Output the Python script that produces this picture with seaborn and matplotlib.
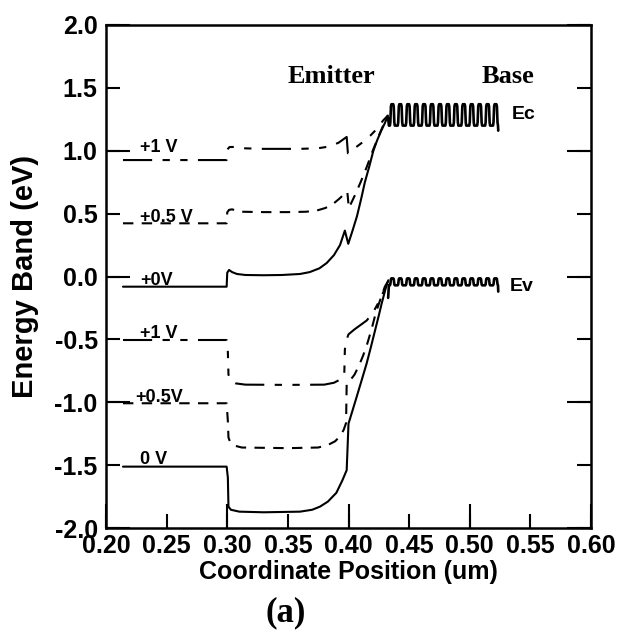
import numpy as np
import pandas as pd
import seaborn as sns
import matplotlib.pyplot as plt

# conduction band, emitter side (x in um, energy in eV)
cb_0v_x = [0.214, 0.2995, 0.3000, 0.3015, 0.304, 0.308, 0.315, 0.330, 0.345, 0.360, 0.368, 0.376,
           0.382, 0.388, 0.393, 0.397, 0.3998, 0.4035, 0.407, 0.4105, 0.4135, 0.417, 0.4205,
           0.4235, 0.427, 0.430, 0.4325]
cb_0v_y = [-0.081, -0.081, 0.030, 0.052, 0.035, 0.020, 0.012, 0.010, 0.012, 0.020, 0.035, 0.065,
           0.107, 0.170, 0.250, 0.365, 0.260, 0.370, 0.480, 0.620, 0.750, 0.870, 1.000,
           1.080, 1.160, 1.220, 1.280]

cb_05v_x = [0.214, 0.2995, 0.3000, 0.3015, 0.304, 0.307, 0.312, 0.330, 0.350, 0.365, 0.374, 0.381,
            0.387, 0.392, 0.3965, 0.3990, 0.4003, 0.405, 0.410, 0.415, 0.420, 0.425, 0.4295, 0.4325]
cb_05v_y = [0.423, 0.423, 0.510, 0.530, 0.534, 0.525, 0.515, 0.512, 0.512, 0.515, 0.525, 0.545,
            0.575, 0.615, 0.655, 0.675, 0.545, 0.640, 0.750, 0.870, 1.000, 1.120, 1.220, 1.280]

cb_1v_x = [0.214, 0.2995, 0.3000, 0.302, 0.306, 0.312, 0.330, 0.360, 0.375, 0.385, 0.392, 0.3985,
           0.3995, 0.405, 0.412, 0.418, 0.424, 0.4285, 0.4325]
cb_1v_y = [0.926, 0.926, 1.010, 1.030, 1.030, 1.020, 1.015, 1.015, 1.020, 1.035, 1.065, 1.110,
           0.980, 1.020, 1.070, 1.120, 1.180, 1.240, 1.280]

# valence band, emitter side
vb_0v_x = [0.214, 0.2995, 0.3005, 0.301, 0.303, 0.310, 0.330, 0.360, 0.370, 0.3765, 0.383, 0.390,
           0.395, 0.3985, 0.4000, 0.4035, 0.4068, 0.411, 0.415, 0.4185, 0.422, 0.425, 0.4274,
           0.4305, 0.4328]
vb_0v_y = [-1.512, -1.512, -1.600, -1.830, -1.855, -1.870, -1.875, -1.870, -1.855, -1.830, -1.790,
           -1.720, -1.620, -1.540, -1.170, -1.060, -0.955, -0.820, -0.690, -0.560, -0.425, -0.310,
           -0.213, -0.100, -0.030]

vb_05v_x = [0.214, 0.2995, 0.3005, 0.301, 0.3025, 0.306, 0.312, 0.350, 0.375, 0.383, 0.389, 0.393,
            0.396, 0.398, 0.3985, 0.401, 0.405, 0.409, 0.412, 0.415, 0.419, 0.4225, 0.426, 0.430,
            0.4325]
vb_05v_y = [-1.008, -1.008, -1.150, -1.280, -1.320, -1.345, -1.360, -1.365, -1.360, -1.340, -1.310,
            -1.270, -1.220, -1.165, -0.850, -0.830, -0.780, -0.700, -0.630, -0.550, -0.420, -0.290,
            -0.190, -0.080, -0.040]

vb_1v_x = [0.214, 0.2995, 0.3005, 0.301, 0.303, 0.307, 0.315, 0.350, 0.380, 0.388, 0.393, 0.3965,
           0.3970, 0.3985, 0.400, 0.405, 0.410, 0.415, 0.420, 0.424, 0.428, 0.4325]
vb_1v_y = [-0.505, -0.505, -0.600, -0.780, -0.830, -0.850, -0.860, -0.862, -0.860, -0.845, -0.820,
           -0.790, -0.580, -0.500, -0.460, -0.420, -0.385, -0.350, -0.290, -0.220, -0.140, -0.040]

# superlattice in the base: rising edge of each period
sl_rise_x = [0.4345, 0.4410, 0.4476, 0.4541, 0.4607, 0.4672, 0.4738, 0.4803, 0.4869, 0.4934,
             0.5000, 0.5065, 0.5131, 0.5196]
sl_width = 0.0033
ec_top, ec_bottom, ec_start, ec_end = 1.37, 1.20, 1.26, 1.16
ev_top, ev_bottom, ev_start, ev_end = -0.015, -0.070, -0.17, -0.12

labels = ["+1 V", "+0.5 V", "+0V", "+1 V", "+0.5V", "0 V"]
label_x = [0.228, 0.228, 0.228, 0.228, 0.224, 0.228]
label_y = [0.99, 0.43, -0.07, -0.49, -1.00, -1.49]


def superlattice(top, bottom, start, end):
    # rounded square wave through the read-off rising edges
    a = top - bottom
    xs, ys = [sl_rise_x[0] - 0.0018, sl_rise_x[0] - 0.0012], [start, bottom]
    for x0 in sl_rise_x:
        xs += [x0 - 0.0004, x0, x0 + 0.0005, x0 + 0.0009, x0 + sl_width - 0.0009,
               x0 + sl_width - 0.0005, x0 + sl_width, x0 + sl_width + 0.0004]
        ys += [bottom, bottom + 0.15 * a, top - 0.1 * a, top, top,
               top - 0.1 * a, bottom + 0.15 * a, bottom]
    xs += [xs[-1] + 0.0002]
    ys += [end]
    return xs, ys


sns.set_theme(style="ticks")
plt.rcParams['font.family'] = ['Liberation Sans', 'DejaVu Sans']
plt.rcParams['font.weight'] = 'bold'
plt.rcParams['axes.labelweight'] = 'bold'
plt.rcParams['text.color'] = 'black'
plt.rcParams['axes.labelcolor'] = 'black'
plt.rcParams['xtick.color'] = 'black'
plt.rcParams['ytick.color'] = 'black'

fig = plt.figure(figsize=(6.19, 6.35), dpi=100)
ax = fig.add_axes([106 / 619, 1 - 528 / 635, 485 / 619, 503 / 635])

solid = '-'
dashed = (0, (5, 4))
dashdot = (0, (14, 5, 3.5, 5, 3.5, 5))

curves = [
    (cb_1v_x, cb_1v_y, dashdot), (cb_05v_x, cb_05v_y, dashed), (cb_0v_x, cb_0v_y, solid),
    (vb_1v_x, vb_1v_y, dashdot), (vb_05v_x, vb_05v_y, dashed), (vb_0v_x, vb_0v_y, solid),
]
for xs, ys, ls in curves:
    df = pd.DataFrame({'x': xs, 'y': ys})
    sns.lineplot(data=df, x='x', y='y', ax=ax, color='black', linewidth=1.5,
                 linestyle=ls, sort=False, estimator=None)

for top, bottom, start, end in [(ec_top, ec_bottom, ec_start, ec_end),
                                (ev_top, ev_bottom, ev_start, ev_end)]:
    xs, ys = superlattice(top, bottom, start, end)
    sns.lineplot(x=xs, y=ys, ax=ax, color='black', linewidth=1.9, sort=False, estimator=None)

for txt, tx, ty in zip(labels, label_x, label_y):
    ax.text(tx, ty, txt, fontsize=13, fontweight='bold', ha='left', va='baseline')

ax.text(0.5346, 1.25, "Ec", fontsize=14, fontweight='bold', va='baseline')
ax.text(0.5330, -0.115, "Ev", fontsize=14, fontweight='bold', va='baseline')
ax.text(0.350, 1.54, "Emitter", fontsize=19, fontweight='bold', family='Liberation Serif')
ax.text(0.5098, 1.54, "Base", fontsize=19, fontweight='bold', family='Liberation Serif')

ax.set_xlim(0.2, 0.6)
ax.set_ylim(-2.0, 2.0)
x_ticks = [0.20, 0.25, 0.30, 0.35, 0.40, 0.45, 0.50, 0.55, 0.60]
y_ticks = [-2.0, -1.5, -1.0, -0.5, 0.0, 0.5, 1.0, 1.5, 2.0]
ax.set_xticks(x_ticks)
ax.set_yticks(y_ticks)
ax.set_xticks(x_ticks[::2], minor=True)
ax.set_yticks(y_ticks[::2], minor=True)
ax.xaxis.remove_overlapping_locs = False
ax.yaxis.remove_overlapping_locs = False
ax.set_xticklabels([f"{v:.2f}" for v in x_ticks])
ax.set_yticklabels([f"{v:.1f}" for v in y_ticks])
ax.tick_params(which='major', direction='in', length=10, width=1.5, labelsize=18,
               left=True, right=True, bottom=True, top=False)
ax.tick_params(which='minor', direction='in', length=17, width=1.5,
               left=True, right=True, bottom=True, top=False)
ax.tick_params(axis='x', pad=4)
ax.tick_params(axis='y', pad=6)
for s in ax.spines.values():
    s.set_linewidth(1.8)
    s.set_color('black')

ax.set_xlabel("Coordinate Position (um)", fontsize=18, labelpad=2)
ax.set_ylabel("Energy Band (eV)", fontsize=21, labelpad=11)

fig.text(0.462, 0.035, "(a)", fontsize=25, fontweight='bold', family='Liberation Serif',
         ha='center', va='center')

fig.savefig("out.png", dpi=100, facecolor='white')
